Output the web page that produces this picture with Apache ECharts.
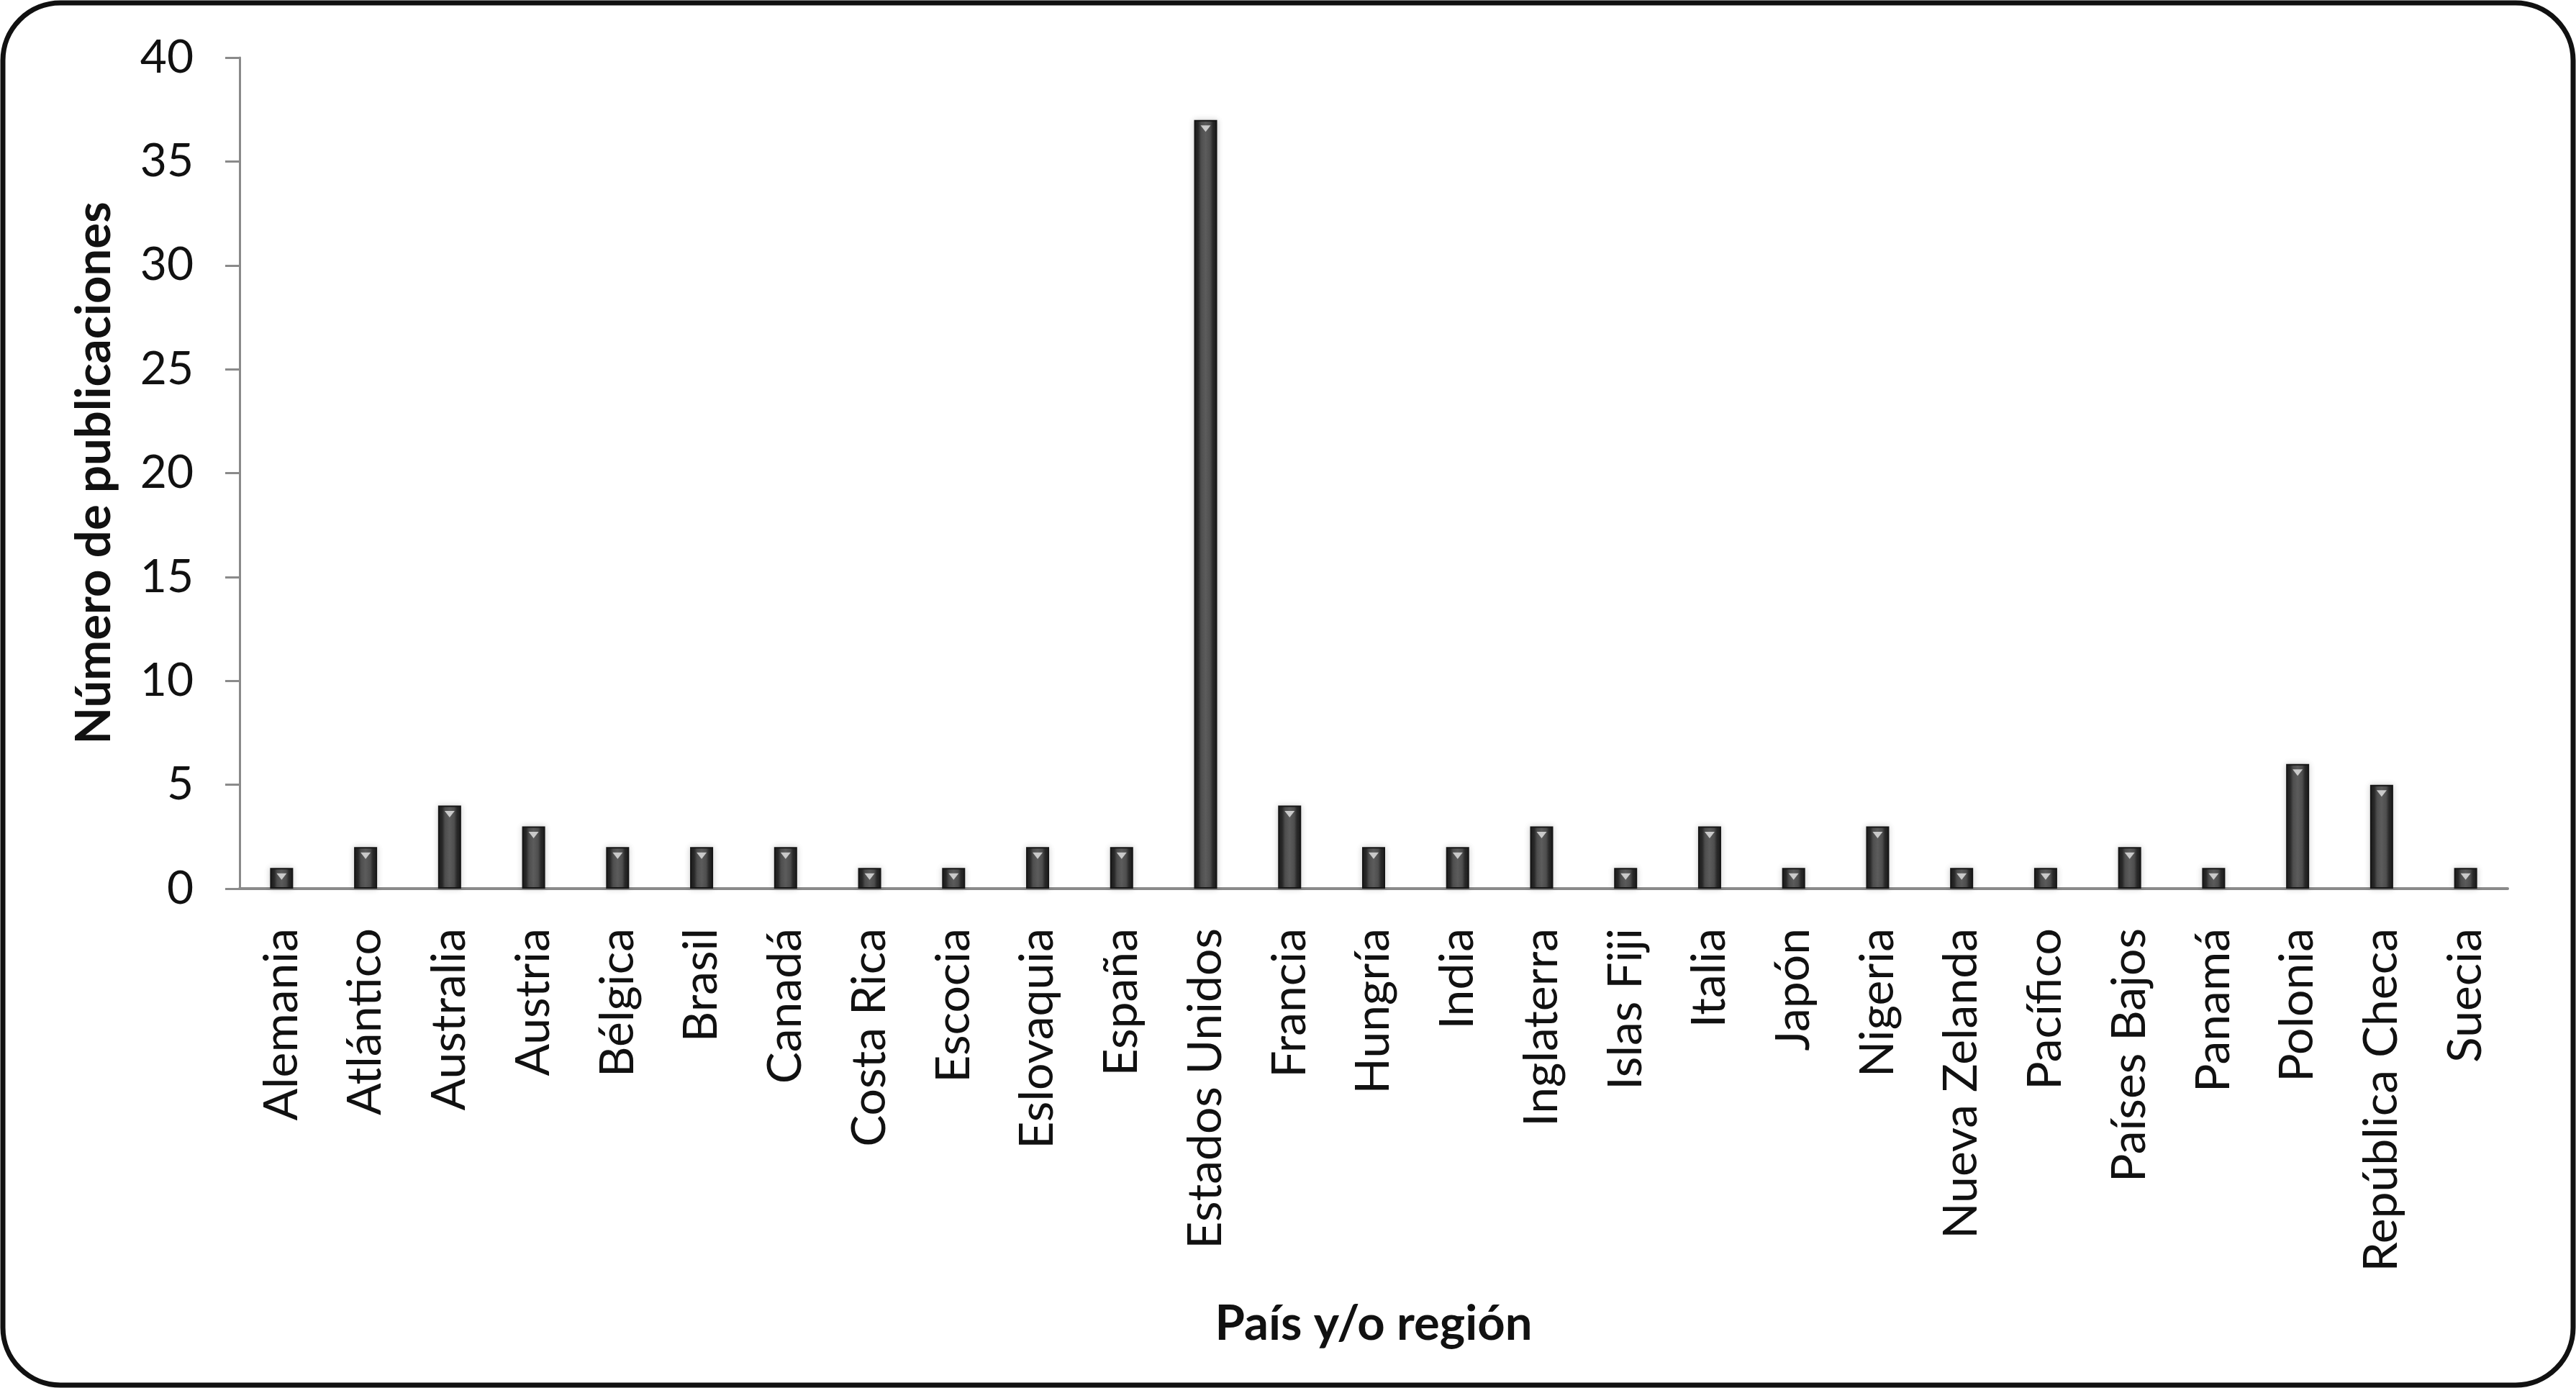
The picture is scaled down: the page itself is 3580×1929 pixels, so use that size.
<!DOCTYPE html>
<html>
<head>
<meta charset="utf-8">
<script src="https://cdn.jsdelivr.net/npm/echarts@6/dist/echarts.min.js"></script>
<style>
  html, body { margin: 0; padding: 0; background: #fff; }
  #chart { width: 3580px; height: 1929px; }
</style>
</head>
<body>
<div id="chart"></div>
<script>
const countries = ['Alemania', 'Atlántico', 'Australia', 'Austria', 'Bélgica', 'Brasil', 'Canadá',
  'Costa Rica', 'Escocia', 'Eslovaquia', 'España', 'Estados Unidos', 'Francia', 'Hungría', 'India',
  'Inglaterra', 'Islas Fiji', 'Italia', 'Japón', 'Nigeria', 'Nueva Zelanda', 'Pacífico',
  'Países Bajos', 'Panamá', 'Polonia', 'República Checa', 'Suecia'];
const publications = [1, 2, 4, 3, 2, 2, 2, 1, 1, 2, 2, 37, 4, 2, 2, 3, 1, 3, 1, 3, 1, 1, 2, 1, 6, 5, 1];
const yTicks = { min: 0, max: 40, interval: 5 };

const font = 'Lato, "Open Sans", sans-serif';
const chart = echarts.init(document.getElementById('chart'));

const barFill = new echarts.graphic.LinearGradient(0, 0, 1, 0, [
  { offset: 0, color: '#1c1c1c' },
  { offset: 0.18, color: '#2a2a2a' },
  { offset: 0.3, color: '#4e4e4e' },
  { offset: 0.5, color: '#5c5c5c' },
  { offset: 0.7, color: '#4e4e4e' },
  { offset: 0.82, color: '#2a2a2a' },
  { offset: 1, color: '#1c1c1c' }
]);

const option = {
  backgroundColor: '#fff',
  animation: false,
  graphic: [{
    type: 'rect',
    shape: { x: 4, y: 4, width: 3572, height: 1921, r: 80 },
    style: { fill: 'none', stroke: '#111', lineWidth: 7 },
    z: 100
  }],
  grid: { left: 333, right: 95, top: 80, bottom: 694 },
  xAxis: {
    type: 'category',
    data: countries,
    name: 'País y/o región',
    nameLocation: 'middle',
    nameGap: 572,
    nameTextStyle: { fontFamily: font, fontWeight: 'bold', fontSize: 67, color: '#111', verticalAlign: 'top' },
    axisLine: { lineStyle: { color: '#8a8a8a', width: 4 } },
    axisTick: { show: false },
    axisLabel: { rotate: 90, margin: 55, fontFamily: font, fontSize: 66, color: '#111', interval: 0 }
  },
  yAxis: {
    type: 'value',
    min: yTicks.min,
    max: yTicks.max,
    interval: yTicks.interval,
    name: 'Número de publicaciones',
    nameLocation: 'middle',
    nameGap: 168,
    nameTextStyle: { fontFamily: font, fontWeight: 'bold', fontSize: 67, color: '#111' },
    axisLine: { show: true, lineStyle: { color: '#8a8a8a', width: 3 } },
    axisTick: { show: true, length: 20, lineStyle: { color: '#8a8a8a', width: 3 } },
    splitLine: { show: false },
    axisLabel: { margin: 64, fontFamily: font, fontSize: 64, color: '#111' }
  },
  series: [
    {
      type: 'bar',
      data: publications,
      barWidth: 32,
      itemStyle: {
        color: barFill,
        borderColor: '#161616',
        borderWidth: 2,
        shadowColor: 'rgba(0,0,0,0.18)',
        shadowBlur: 8
      },
      z: 2
    },
    {
      type: 'scatter',
      data: publications,
      symbol: 'triangle',
      symbolRotate: 180,
      symbolSize: [14, 9],
      symbolOffset: [0, 12],
      itemStyle: { color: '#e6e6e6' },
      silent: true,
      z: 3
    }
  ]
};

chart.setOption(option);
</script>
</body>
</html>
